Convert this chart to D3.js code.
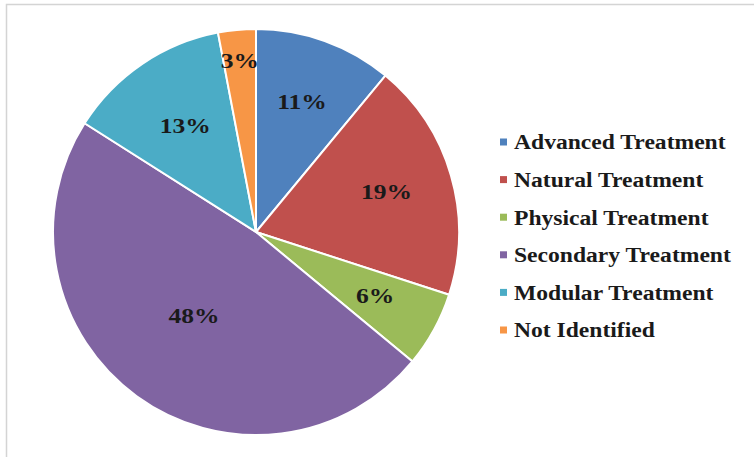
<!DOCTYPE html>
<html>
<head>
<meta charset="utf-8">
<script src="https://cdn.jsdelivr.net/npm/d3@7"></script>
<style>
  body { margin: 0; background: #fff; }
  svg { display: block; }
  text { font-family: "Liberation Serif", "Times New Roman", serif; font-weight: bold; }
</style>
</head>
<body>
<svg id="chart" width="754" height="457"></svg>
<script>
// chart data
const categories = ["Advanced Treatment", "Natural Treatment", "Physical Treatment",
                    "Secondary Treatment", "Modular Treatment", "Not Identified"];
const shares = [11, 19, 6, 48, 13, 3];
const colors = ["#4f81bd", "#c0504d", "#9bbb59", "#8064a2", "#4bacc6", "#f79646"];

// label distance from centre, as a fraction of the radius (excel "best fit" look)
const labelRadiusFrac = [0.67, 0.67, 0.67, 0.52, 0.62, 0.84];

const width = 754, height = 457;
const cx = 256, cy = 232, radius = 203;
const textStretch = 1.16; // source image text is a bit wider than plain times

const svg = d3.select("#chart");

//frame, only top and left edges show in the crop
svg.append("path")
    .attr("d", `M6.5,${height} V4.5 H${width}`)
    .attr("fill", "none")
    .attr("stroke", "#d4d4d4")
    .attr("stroke-width", 1.5);

const pie = d3.pie().sort(null).value(d => d);
const arcs = pie(shares);

const arc = d3.arc().innerRadius(0).outerRadius(radius);

const g = svg.append("g").attr("transform", `translate(${cx},${cy})`);

g.selectAll("path.slice")
    .data(arcs)
    .join("path")
    .attr("class", "slice")
    .attr("d", arc)
    .attr("fill", (d, i) => colors[i])
    .attr("stroke", "#fff")
    .attr("stroke-width", 2);

g.selectAll("text.lbl")
    .data(arcs)
    .join("text")
    .attr("class", "lbl")
    .attr("transform", (d, i) => {
        const r = radius * labelRadiusFrac[i];
        const a = (d.startAngle + d.endAngle) / 2;
        return `translate(${r * Math.sin(a)},${-r * Math.cos(a) - 2}) scale(${textStretch},1)`;
    })
    .attr("text-anchor", "middle")
    .attr("dominant-baseline", "central")
    .attr("font-size", 22)
    .attr("fill", "#1a1a1a")
    .text(d => d.value + "%");

// legend
const legendY = d3.scalePoint().domain(categories).range([142, 330]);

const legend = svg.append("g")
    .selectAll("g")
    .data(categories)
    .join("g")
    .attr("transform", d => `translate(500,${legendY(d)})`);

legend.append("rect")
    .attr("x", 0)
    .attr("y", -3.5)
    .attr("width", 7)
    .attr("height", 7)
    .attr("fill", (d, i) => colors[i]);

legend.append("text")
    .attr("transform", `translate(14,1) scale(${textStretch + 0.02},1)`)
    .attr("dominant-baseline", "central")
    .attr("font-size", 20)
    .attr("fill", "#1a1a1a")
    .text(d => d);
</script>
</body>
</html>
